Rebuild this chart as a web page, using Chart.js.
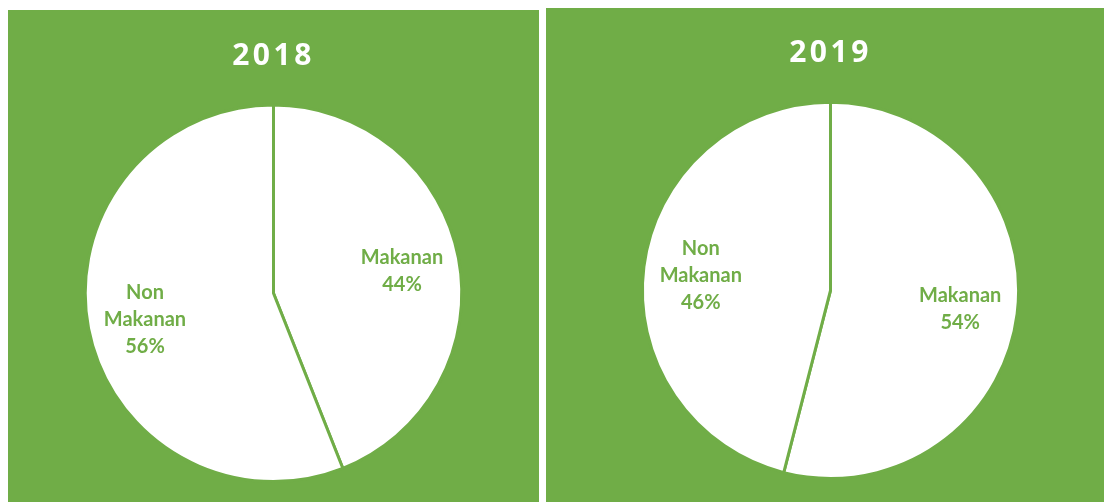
<!DOCTYPE html>
<html>
<head>
<meta charset="utf-8">
<script src="https://cdn.jsdelivr.net/npm/chart.js@4/dist/chart.umd.min.js"></script>
<style>
  body { margin: 0; background: #fff; width: 1104px; height: 502px; position: relative; overflow: hidden; }
  .panel { position: absolute; background: #70ad47; }
  #p2018 { left: 8px; top: 10px; width: 531px; height: 492px; }
  #p2019 { left: 546px; top: 8px; width: 558px; height: 494px; }
</style>
</head>
<body>
<div class="panel" id="p2018"><canvas id="pie2018"></canvas></div>
<div class="panel" id="p2019"><canvas id="pie2019"></canvas></div>
<script>
const GREEN = "#70ad47";

const categories = ["Makanan", "Non Makanan"];
const labelLines = [["Makanan"], ["Non", "Makanan"]];
const values2018 = [44, 56];
const values2019 = [54, 46];

// draws the category + percent inside each slice
const sliceLabels = {
  id: "sliceLabels",
  beforeDatasetsDraw(chart) {
    chart.ctx.letterSpacing = "0px";
  },
  afterDatasetsDraw(chart, args, opts) {
    const ctx = chart.ctx;
    const meta = chart.getDatasetMeta(0);
    const data = chart.data.datasets[0].data;
    ctx.save();
    ctx.fillStyle = GREEN;
    ctx.font = "bold 20px Lato";
    ctx.textAlign = "center";
    ctx.textBaseline = "middle";
    meta.data.forEach((arc, i) => {
      const { x, y, startAngle, endAngle, outerRadius } = arc.getProps(
        ["x", "y", "startAngle", "endAngle", "outerRadius"], true);
      const mid = (startAngle + endAngle) / 2;
      const r = outerRadius * opts.factor;
      const lines = labelLines[i].concat([data[i] + "%"]);
      const lh = 27;
      const cx = x + Math.cos(mid) * r;
      const cy = y + Math.sin(mid) * r - (lines.length - 1) * lh / 2 + 2;
      lines.forEach((t, k) => ctx.fillText(t, cx, cy + k * lh));
    });
    ctx.restore();
  },
};

const titleSpacing = {
  id: "titleSpacing",
  beforeDraw(chart) {
    chart.ctx.letterSpacing = "3.5px";
  },
};

function makePie(el, year, values, padding, titlePad) {
  return new Chart(document.getElementById(el), {
    type: "pie",
    data: {
      labels: categories,
      datasets: [{
        data: values,
        backgroundColor: ["#ffffff", "#ffffff"],
        borderColor: GREEN,
        borderWidth: 3,
      }],
    },
    options: {
      responsive: true,
      maintainAspectRatio: false,
      animation: false,
      layout: { padding },
      plugins: {
        legend: { display: false },
        tooltip: { enabled: false },
        title: {
          display: true,
          text: year,
          color: "#ffffff",
          font: { family: "Open Sans", weight: "bold", size: 30, lineHeight: 1.2 },
          padding: titlePad,
        },
        sliceLabels: { factor: 0.695 },
      },
    },
    plugins: [titleSpacing, sliceLabels],
  });
}

makePie("pie2018", "2018", values2018,
  { top: 0, bottom: 19, left: 0, right: 0 }, { top: 28, bottom: 29.5 });
makePie("pie2019", "2019", values2019,
  { top: 0, bottom: 22, left: 11, right: 0 }, { top: 27, bottom: 29.8 });
</script>
</body>
</html>
